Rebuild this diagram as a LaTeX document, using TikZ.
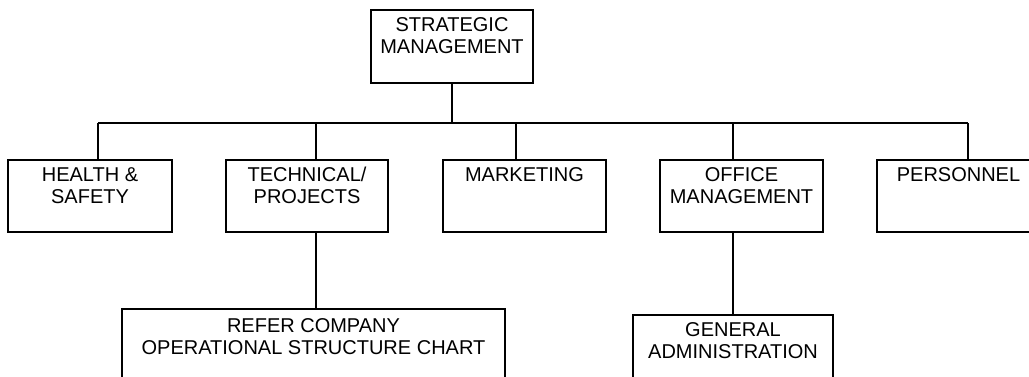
\documentclass[tikz,border=0pt]{standalone}
\usepackage{fontspec}
\setmainfont{Liberation Sans}
\usetikzlibrary{positioning}
\tikzset{
  unit/.style={draw, line width=1.8pt, minimum width=163pt, minimum height=72pt, inner sep=0pt},
  unittext/.style={anchor=north, yshift=-8pt, inner sep=0pt, align=center, font=\fontsize{20}{22}\selectfont},
  link/.style={line width=1.8pt}
}

\begin{document}
\begin{tikzpicture}[x=1pt,y=-1pt]
  \useasboundingbox (0,0) rectangle (1029,376);
  \clip (0,0) rectangle (1029,376);

  % top
  \node[unit,minimum width=162pt,minimum height=73pt,label={[unittext]north:STRATEGIC\\MANAGEMENT}] (strat) at (452,46.5) {};

  % departments
  \node[unit,minimum width=164pt,label={[unittext]north:HEALTH \&\\SAFETY}] (hs) at (90,196) {};
  \node[unit,minimum width=162pt,label={[unittext]north:TECHNICAL/\\PROJECTS}] (tp) at (307,196) {};
  \node[unit,label={[unittext]north:MARKETING}] (mk) at (524.5,196) {};
  \node[unit,label={[unittext]north:OFFICE\\MANAGEMENT}] (om) at (741.5,196) {};
  \node[unit,label={[unittext]north:PERSONNEL}] (pe) at (958.5,196) {};

  % lower level
  \node[unit,minimum width=383pt,label={[unittext,yshift=-2pt]north:REFER COMPANY\\OPERATIONAL STRUCTURE CHART}] (refer) at (313.5,345) {};
  \node[unit,minimum width=200pt,label={[unittext]north:GENERAL\\ADMINISTRATION}] (ga) at (733,351) {};

  % bus
  \coordinate (bus-hs) at (98,123);
  \coordinate (bus-tp) at (316,123);
  \coordinate (bus-mk) at (516,123);
  \coordinate (bus-om) at (733,123);
  \coordinate (bus-pe) at (968,123);

  \draw[link] (strat.south) -- (strat.south |- bus-hs);
  \draw[link] (bus-hs) -- (bus-pe);
  \foreach \d in {hs,tp,mk,om,pe}
    \draw[link] (bus-\d) -- (bus-\d |- \d.north);

  \draw[link] (tp.south -| bus-tp) -- (refer.north -| bus-tp);
  \draw[link] (om.south -| bus-om) -- (ga.north -| bus-om);
\end{tikzpicture}
\end{document}
